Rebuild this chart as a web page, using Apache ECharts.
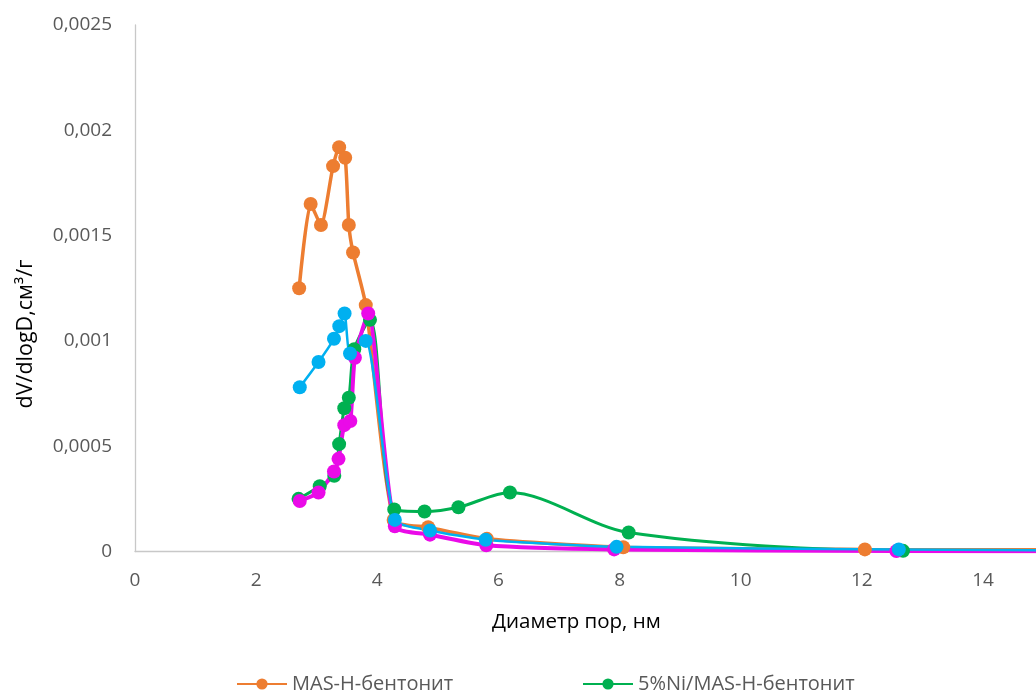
<!DOCTYPE html>
<html>
<head>
<meta charset="utf-8">
<script src="https://cdn.jsdelivr.net/npm/echarts@6/dist/echarts.min.js"></script>
<style>
  html, body { margin: 0; padding: 0; background: #fff; }
  #chart { width: 1036px; height: 693px; }
</style>
</head>
<body>
<div id="chart"></div>
<script>
// Pore size distribution: dV/dlogD vs pore diameter (nm)
const masX = [2.71, 2.90, 3.07, 3.27, 3.37, 3.47, 3.53, 3.60, 3.81, 4.27, 4.84, 5.81, 8.06, 12.05, 16.0];
const masY = [0.00125, 0.00165, 0.00155, 0.00183, 0.00192, 0.00187, 0.00155, 0.00142, 0.00117, 0.00015, 0.000115, 0.00006, 0.00002, 0.00001, 0.000008];

const niX = [2.70, 3.05, 3.29, 3.37, 3.455, 3.53, 3.62, 3.88, 4.28, 4.78, 5.34, 6.19, 8.15, 12.68, 16.0];
const niY = [0.00025, 0.00031, 0.00036, 0.00051, 0.00068, 0.00073, 0.00096, 0.0011, 0.0002, 0.00019, 0.00021, 0.00028, 0.00009, 0.000003, 0.000002];

const s3X = [2.72, 3.03, 3.285, 3.36, 3.455, 3.555, 3.63, 3.85, 4.29, 4.87, 5.80, 7.91, 12.57, 16.0];
const s3Y = [0.00024, 0.00028, 0.00038, 0.00044, 0.0006, 0.00062, 0.00092, 0.00113, 0.00012, 0.00008, 0.00003, 0.00001, 0.000002, 0.000001];

const s4X = [2.72, 3.03, 3.285, 3.373, 3.46, 3.55, 3.81, 4.29, 4.87, 5.79, 7.95, 12.61, 16.0];
const s4Y = [0.00078, 0.0009, 0.00101, 0.00107, 0.00113, 0.00094, 0.001, 0.00015, 0.0001, 0.000056, 0.000022, 0.00001, 0.000004];

const seriesNames = ['MAS-H-бентонит', '5%Ni/MAS-H-бентонит', 'Серия 3', 'Серия 4'];
const xTitle = 'Диаметр пор, нм';
const yTitle = 'dV/dlogD,см³/г';

const FONT = 'Open Sans';
const pair = (xs, ys) => xs.map((x, i) => [x, ys[i]]);

function lineSeries(name, data, color, width, smooth) {
  return {
    name: name,
    type: 'line',
    data: data,
    smooth: smooth,
    symbol: 'circle',
    symbolSize: 14,
    clip: true,
    lineStyle: { color: color, width: width },
    itemStyle: { color: color },
    emphasis: { disabled: true },
    z: 2
  };
}

const legendText = { color: '#595959', fontSize: 20, fontFamily: FONT };

const chart = echarts.init(document.getElementById('chart'), null, { renderer: 'canvas' });
chart.setOption({
  animation: false,
  backgroundColor: '#ffffff',
  textStyle: { fontFamily: FONT },
  grid: { left: 135, top: 25, right: 0, bottom: 141.5, containLabel: false },
  xAxis: {
    type: 'value',
    // the visible range stops just short of 15 nm, at the page edge
    min: 0, max: 14.875, interval: 2,
    axisLine: { show: true, lineStyle: { color: '#c8c8c8', width: 1.3 } },
    axisTick: { show: false },
    splitLine: { show: false },
    axisLabel: { color: '#595959', fontSize: 19, fontFamily: FONT, margin: 20, showMaxLabel: false }
  },
  yAxis: {
    type: 'value',
    min: 0, max: 0.0025, interval: 0.0005,
    axisLine: { show: true, lineStyle: { color: '#c8c8c8', width: 1.3 } },
    axisTick: { show: false },
    splitLine: { show: false },
    axisLabel: {
      color: '#595959', fontSize: 19, fontFamily: FONT, margin: 23,
      formatter: v => String(+v.toFixed(6)).replace('.', ',')
    }
  },
  legend: [
    {
      data: [seriesNames[0]], left: 231, top: 669,
      itemWidth: 50, itemHeight: 14, itemGap: 4,
      textStyle: legendText
    },
    {
      data: [seriesNames[1]], left: 577, top: 669,
      itemWidth: 50, itemHeight: 14, itemGap: 4,
      textStyle: legendText
    }
  ],
  graphic: [
    {
      type: 'text', left: 492, top: 612,
      style: { text: xTitle, fill: '#000', font: '20.5px "' + FONT + '"' }
    },
    {
      type: 'text', x: 26, y: 334, rotation: Math.PI / 2,
      style: { text: yTitle, fill: '#000', font: '21.5px "' + FONT + '"', textAlign: 'center', textVerticalAlign: 'middle' }
    }
  ],
  series: [
    lineSeries(seriesNames[0], pair(masX, masY), '#ED7D31', 3.5, 0.2),
    lineSeries(seriesNames[1], pair(niX, niY), '#00B050', 3, 0.3),
    lineSeries(seriesNames[2], pair(s3X, s3Y), '#EA0AE8', 4, 0.2),
    lineSeries(seriesNames[3], pair(s4X, s4Y), '#00B0F0', 2.5, 0.2)
  ]
});
</script>
</body>
</html>
